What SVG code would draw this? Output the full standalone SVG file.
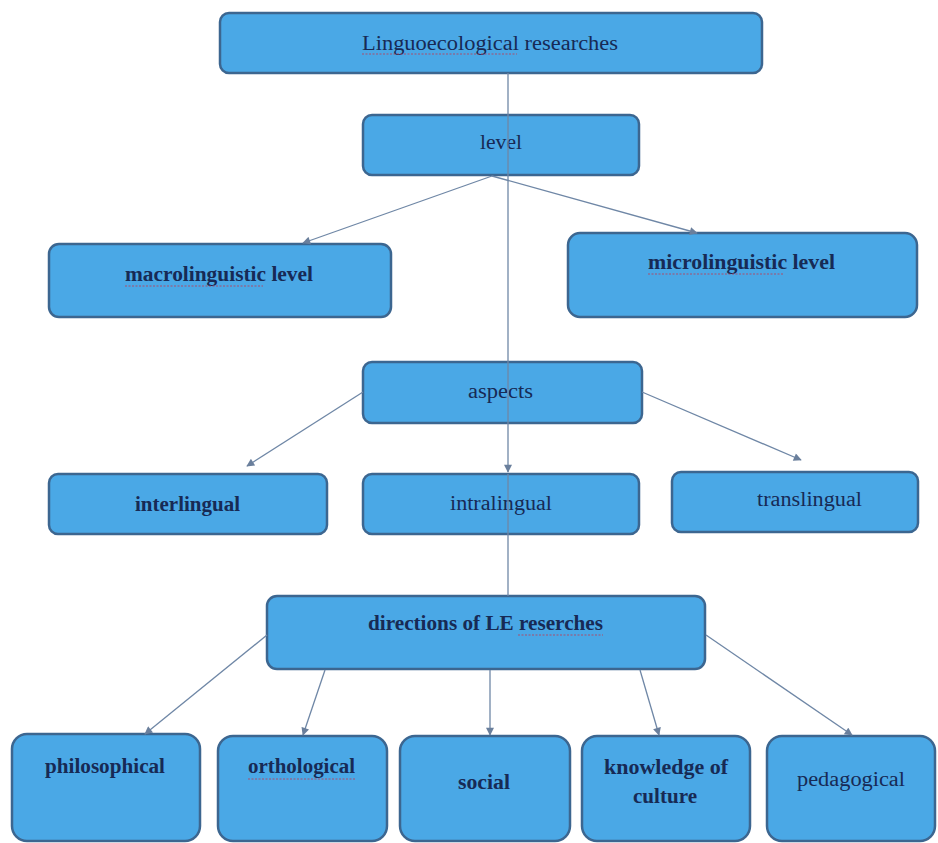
<svg xmlns="http://www.w3.org/2000/svg" width="938" height="843" viewBox="0 0 938 843">
<style>
  .box { fill: #4aa8e6; stroke: #3c6690; stroke-width: 2.5; }
  .t { font-family: "Liberation Serif", "DejaVu Serif", serif; font-size: 20px; fill: #172a55; text-anchor: start; }
  .b { font-weight: bold; }
  .c { stroke: #6f87a6; stroke-width: 1.3; fill: none; }
  .sp { stroke: #c8324a; stroke-width: 1.1; fill: none; stroke-dasharray: 2 1.5; opacity: 0.75; }
</style>
<defs>
  <marker id="ah" viewBox="0 0 10 10" refX="9" refY="5" markerWidth="9" markerHeight="8" orient="auto" markerUnits="userSpaceOnUse">
    <path d="M0,0 L10,5 L0,10 z" fill="#6a7f9c"/>
  </marker>
</defs>
<rect width="938" height="843" fill="#ffffff"/>

<g id="n-root">
  <rect class="box" x="220" y="13" width="542" height="60" rx="9"/>
  <text class="t" x="362" y="50" textLength="256" lengthAdjust="spacingAndGlyphs">Linguoecological researches</text>
  <path class="sp" d="M362,54 H517"/>
</g>
<g id="n-level">
  <rect class="box" x="363" y="115" width="276" height="60" rx="9"/>
  <text class="t" x="480" y="149" textLength="42" lengthAdjust="spacingAndGlyphs">level</text>
</g>
<g id="n-macro">
  <rect class="box" x="49" y="244" width="342" height="73" rx="10"/>
  <text class="t b" x="125" y="281" textLength="188" lengthAdjust="spacingAndGlyphs">macrolinguistic level</text>
  <path class="sp" d="M125,286 H263"/>
</g>
<g id="n-micro">
  <rect class="box" x="568" y="233" width="349" height="84" rx="12"/>
  <text class="t b" x="648" y="269" textLength="187" lengthAdjust="spacingAndGlyphs">microlinguistic level</text>
  <path class="sp" d="M648,274 H783"/>
</g>
<g id="n-aspects">
  <rect class="box" x="363" y="362" width="279" height="61" rx="9"/>
  <text class="t" x="468" y="398" textLength="65" lengthAdjust="spacingAndGlyphs">aspects</text>
</g>
<g id="n-inter">
  <rect class="box" x="49" y="474" width="278" height="60" rx="9"/>
  <text class="t b" x="135" y="511" textLength="105" lengthAdjust="spacingAndGlyphs">interlingual</text>
</g>
<g id="n-intra">
  <rect class="box" x="363" y="474" width="276" height="60" rx="9"/>
  <text class="t" x="450" y="510" textLength="102" lengthAdjust="spacingAndGlyphs">intralingual</text>
</g>
<g id="n-trans">
  <rect class="box" x="672" y="472" width="246" height="60" rx="9"/>
  <text class="t" x="757" y="506" textLength="105" lengthAdjust="spacingAndGlyphs">translingual</text>
</g>
<g id="n-directions">
  <rect class="box" x="267" y="596" width="438" height="73" rx="10"/>
  <text class="t b" x="368" y="630" textLength="235" lengthAdjust="spacingAndGlyphs">directions of LE reserches</text>
  <path class="sp" d="M518,635 H603"/>
</g>
<g id="n-philosophical">
  <rect class="box" x="12" y="734" width="188" height="107" rx="15"/>
  <text class="t b" x="45" y="773" textLength="120" lengthAdjust="spacingAndGlyphs">philosophical</text>
</g>
<g id="n-orthological">
  <rect class="box" x="218" y="736" width="169" height="105" rx="15"/>
  <text class="t b" x="248" y="773" textLength="107" lengthAdjust="spacingAndGlyphs">orthological</text>
  <path class="sp" d="M248,779 H355"/>
</g>
<g id="n-social">
  <rect class="box" x="400" y="736" width="170" height="105" rx="15"/>
  <text class="t b" x="458" y="789" textLength="52" lengthAdjust="spacingAndGlyphs">social</text>
</g>
<g id="n-knowledge">
  <rect class="box" x="582" y="736" width="168" height="105" rx="15"/>
  <text class="t b" x="604" y="774" textLength="124" lengthAdjust="spacingAndGlyphs">knowledge of</text>
  <text class="t b" x="633" y="803" textLength="64" lengthAdjust="spacingAndGlyphs">culture</text>
</g>
<g id="n-pedagogical">
  <rect class="box" x="767" y="736" width="168" height="105" rx="15"/>
  <text class="t" x="797" y="786" textLength="108" lengthAdjust="spacingAndGlyphs">pedagogical</text>
</g>

<g id="connectors">
  <path class="c" d="M508,73 V472" marker-end="url(#ah)"/>
  <path class="c" d="M508,474 V596"/>
  <path class="c" d="M492,176 L303,243" marker-end="url(#ah)"/>
  <path class="c" d="M492,176 L697,233" marker-end="url(#ah)"/>
  <path class="c" d="M363,392 L247,466" marker-end="url(#ah)"/>
  <path class="c" d="M642,392 L801,460" marker-end="url(#ah)"/>
  <path class="c" d="M267,635 L145,734" marker-end="url(#ah)"/>
  <path class="c" d="M325,670 L303,735" marker-end="url(#ah)"/>
  <path class="c" d="M490,670 L490,735" marker-end="url(#ah)"/>
  <path class="c" d="M640,670 L659,735" marker-end="url(#ah)"/>
  <path class="c" d="M706,635 L852,735" marker-end="url(#ah)"/>
</g>
</svg>
